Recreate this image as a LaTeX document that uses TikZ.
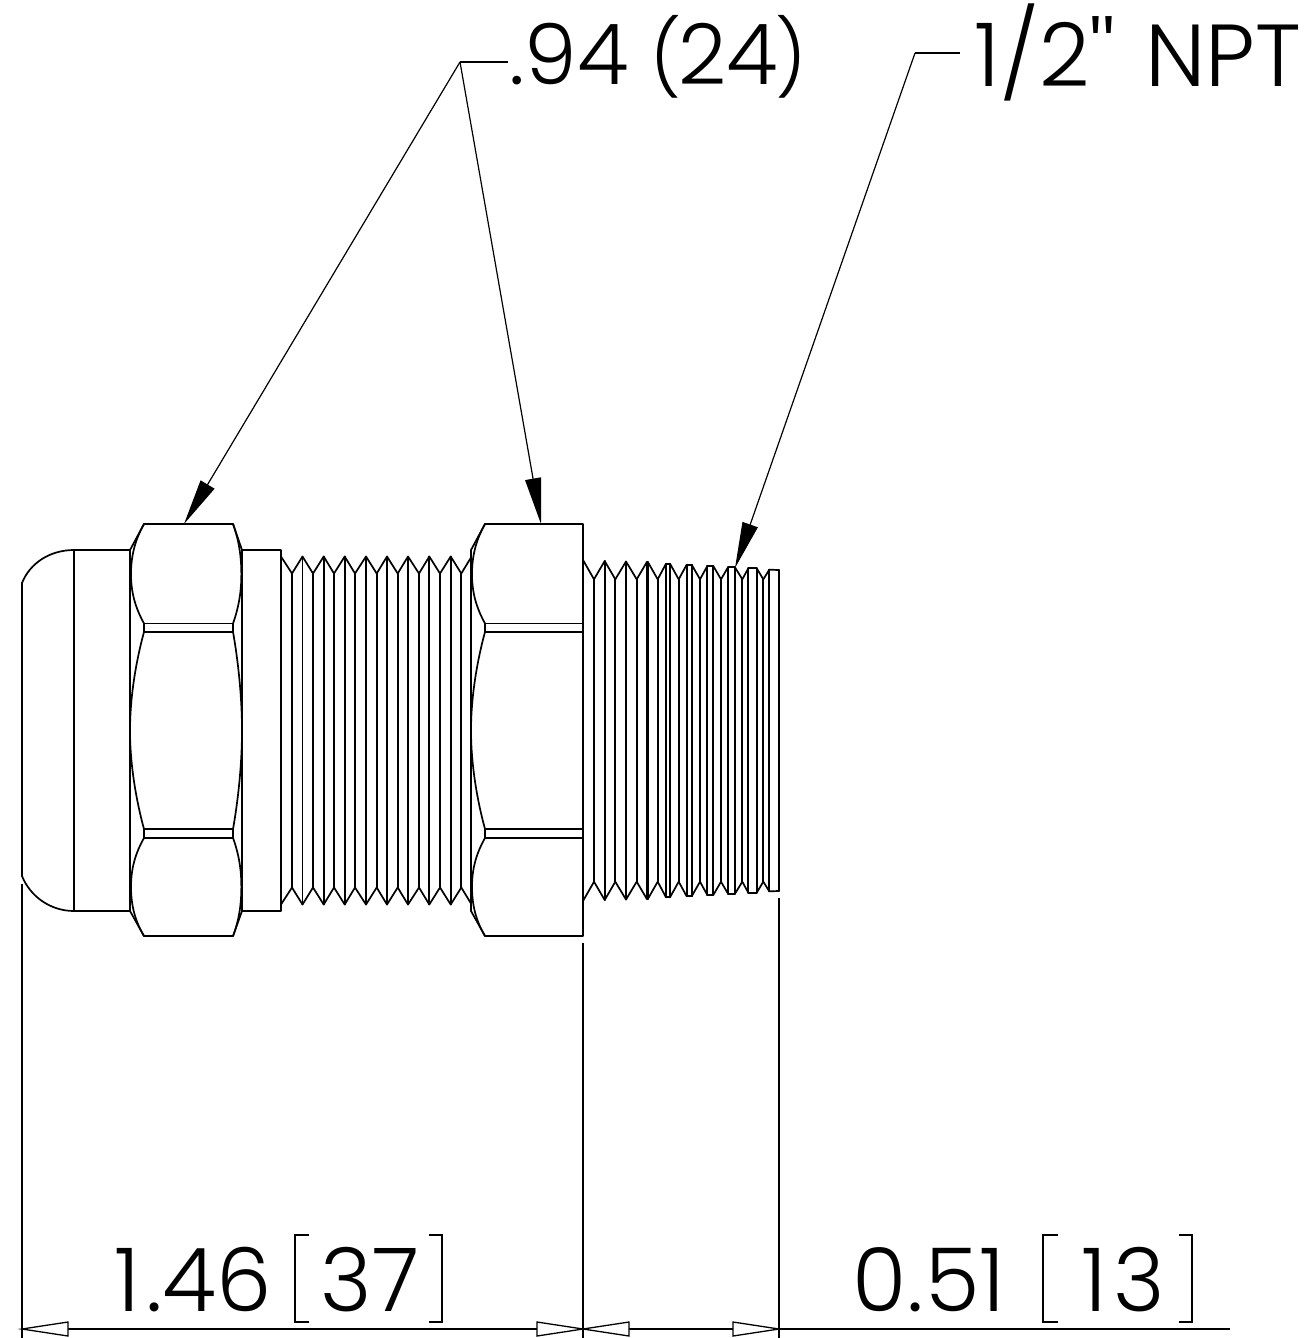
\documentclass[tikz,border=0pt]{standalone}
\usepackage{fontspec}
\usetikzlibrary{arrows.meta}
\newfontfamily\lab{Poppins Light}
\newcommand{\parenfont}{\fontsize{37}{42}\selectfont}
\tikzset{
  part/.style={line width=0.85pt,line cap=round,line join=round},
  dimline/.style={line width=0.65pt},
  leader/.style={line width=0.6pt,-{Triangle[length=23pt,width=8pt,fill=black]}},
  leaderbar/.style={line width=0.6pt},
  openhead/.style={line width=0.65pt,fill=white,line join=miter},
  dimtext/.style={font=\lab\fontsize{44}{50}\selectfont,inner sep=0pt,anchor=center,text=black},
  brack/.style={line width=0.55pt}
}
\newcommand{\nutside}[2]{%
  \begin{scope}[shift={(#1,0)},xscale=#2]
    \draw[part] (14,524) -- (0,550);
    \draw[part] (14,524) .. controls (5,540) and (1,556) .. (1,574) .. controls (1,592) and (5,607) .. (14,623.5);
    \draw[part] (14,623.5) -- (14,632);
    \draw[part] (14,632) .. controls (5,665) and (0,700) .. (0,730.5) .. controls (0,761) and (5,796) .. (14,829);
    \draw[part] (14,829) -- (14,838);
    \draw[part] (14,838) .. controls (5,854) and (1,869) .. (1,887) .. controls (1,905) and (5,921) .. (14,936);
    \draw[part] (14,936) -- (0,911);
  \end{scope}}
\newcommand{\openarrow}[2]{% tip x, direction
  \draw[openhead] (#1,1329) -- ({#1+#2*46},1322) -- ({#1+#2*46},1336) -- cycle;}
\begin{document}
\begin{tikzpicture}[x=0.5pt,y=-0.5pt]
\useasboundingbox (0,0) rectangle (1310,1338);
% dome and body
\draw[part] (22,583) .. controls (30,563) and (50,550) .. (74,550) -- (130,550);
\draw[part] (22,876) .. controls (30,896) and (50,911) .. (74,911) -- (130,911);
\draw[part] (22,583) -- (22,876);
\draw[part] (74,550) -- (74,911);
\draw[part] (130,550) -- (130,911);
\draw[part] (242,550) -- (242,911);
\draw[part] (242,550) -- (281,550) -- (281,911) -- (242,911);
% first nut
\nutside{130}{1}
\nutside{242}{-0.64}
\draw[part] (144,524) -- (233,524);
\draw[part] (144,936) -- (233,936);
\foreach \yb in {623.5,632,829,838} \draw[part] (144,\yb) -- (233,\yb);
% second nut
\draw[part] (471,550) -- (471,911);
\nutside{471}{1}
\draw[part] (485,524) -- (583,524) -- (583,936) -- (485,936);
\foreach \yb in {623.5,632,829,838} \draw[part] (485,\yb) -- (583,\yb);
% thread one
\foreach \x/\y [remember=\x as \lx (initially 281),remember=\y as \ly (initially 556.5)] in
 {292/573.5,302.5/556.5,313/573.5,323.7/556.5,334/573.5,344.7/556.5,355/573.5,366/556.5,376.7/573.5,387/556.5,397.7/573.5,408/556.5,419/573.5,429.3/556.5,440/573.5,450.7/556.5,461.3/573.5,471/557.5}{
  \draw[part] (\lx,\ly) -- (\x,\y);
  \draw[part] (\lx,{1461-\ly}) -- (\x,{1461-\y});
  \draw[part] (\x,\y) -- (\x,{1461-\y});
}
% thread two
\foreach \x/\y [remember=\x as \lx (initially 583),remember=\y as \ly (initially 560)] in
 {594/579.3,604.7/561,615.3/579.3,626/561.5,636.7/579.3,646.7/562.3,648/562.3,657.7/579.3,666/563.7,670/563.7,678.7/579.3,686.7/564.7,691.7/564.7,700/579.3,707.3/566,713.3/566,721/579.3,728/567.3,735/567.3,742.3/579.3,748.3/568.3,756.7/568.3,763.3/579.3,769.3/569.7,779/570}{
  \draw[part] (\lx,\ly) -- (\x,\y);
  \draw[part] (\lx,{1461-\ly}) -- (\x,{1461-\y});
  \draw[part] (\x,\y) -- (\x,{1461-\y});
}
% extension lines
\coordinate (e1a) at (22,884);  \coordinate (e1b) at (22,1338);
\coordinate (e2a) at (583,943); \coordinate (e2b) at (583,1338);
\coordinate (e3a) at (779,898); \coordinate (e3b) at (779,1338);
\draw[dimline] (e1a) -- (e1b);
\draw[dimline,line width=0.85pt] (e2a) -- (e2b);
\draw[dimline] (e3a) -- (e3b);
% dimension line
\coordinate (d0) at (22,1329); \coordinate (d1) at (1230,1329);
\draw[dimline] (d0) -- (d1);
\openarrow{22}{1}
\openarrow{583}{-1}
\openarrow{583}{1}
\openarrow{779}{-1}
% leaders
\coordinate (l1) at (460,62); \coordinate (l1e) at (508,62);
\coordinate (t1) at (184,524); \coordinate (t2) at (541,524);
\coordinate (l2) at (915,53); \coordinate (l2e) at (960,53);
\coordinate (t3) at (735,568);
\draw[leaderbar] (l1e) -- (l1);
\draw[leaderbar] (l2e) -- (l2);
\draw[leader] (l1) -- (t1);
\draw[leader] (l1) -- (t2);
\draw[leader] (l2) -- (t3);
% texts
\node[dimtext,font=\lab\fontsize{42}{48}\selectfont] (n94) at (658,57) {.94\kern11pt{\parenfont(}\kern-1.5pt 24\kern-1.5pt{\parenfont)}};
\node[dimtext] (nnpt) at (1138,52) {1/2''\kern3pt\ NPT};
\node[dimtext] (n146) at (193,1280) {1\kern3pt.46};
\node[dimtext] (n37) at (370,1280) {37};
\node[dimtext] (n051) at (929,1280) {0.\kern1pt 51};
\node[dimtext] (n13) at (1123,1280) {1\kern3pt 3};
% brackets
\draw[brack] (309,1235) -- (295,1235) -- (295,1322) -- (309,1322);
\draw[brack] (429,1235) -- (442,1235) -- (442,1322) -- (429,1322);
\draw[brack] (1058,1235) -- (1043,1235) -- (1043,1322) -- (1058,1322);
\draw[brack] (1179,1235) -- (1192,1235) -- (1192,1322) -- (1179,1322);
\end{tikzpicture}
\end{document}
